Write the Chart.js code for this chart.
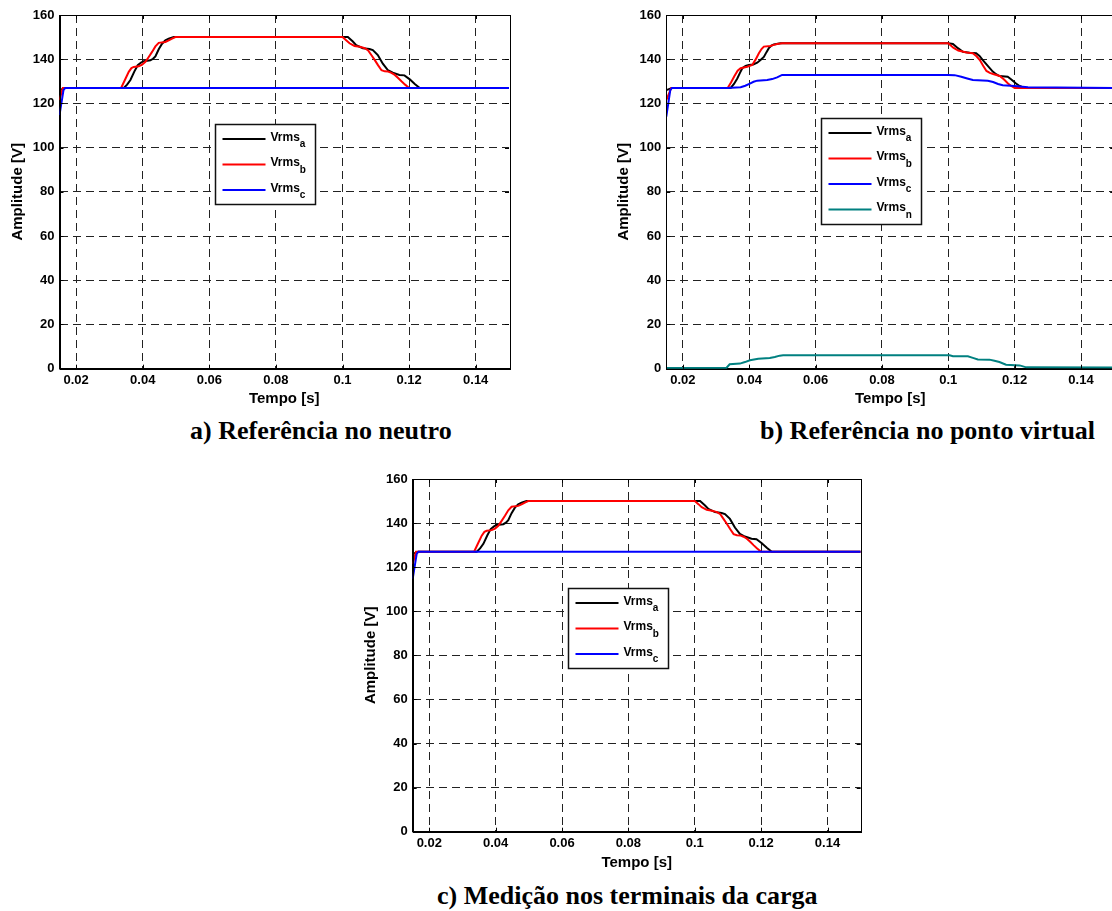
<!DOCTYPE html>
<html>
<head>
<meta charset="utf-8">
<script src="https://cdn.jsdelivr.net/npm/chart.js@4"></script>
<style>
  html, body { margin: 0; padding: 0; background: #fff; }
  body { width: 1112px; height: 911px; position: relative; overflow: hidden; }
  canvas { position: absolute; }
  .caption {
    position: absolute;
    font-family: 'Liberation Serif', 'Times New Roman', serif;
    font-weight: bold;
    font-size: 26px;
    line-height: 26px;
    white-space: nowrap;
    color: #000;
  }
</style>
</head>
<body>
<canvas id="chartA" width="520" height="410" style="left:0px;top:0px"></canvas>
<canvas id="chartB" width="520" height="410" style="left:606px;top:0px"></canvas>
<canvas id="chartC" width="520" height="410" style="left:353px;top:464px"></canvas>
<div class="caption" style="left:190px;top:418px">a) Referência no neutro</div>
<div class="caption" style="left:760px;top:418px">b) Referência no ponto virtual</div>
<div class="caption" style="left:437px;top:883px">c) Medição nos terminais da carga</div>
<script>
// axis ticks
const xTicks = [0.02, 0.04, 0.06, 0.08, 0.1, 0.12, 0.14];
const xTickLabels = ['0.02', '0.04', '0.06', '0.08', '0.1', '0.12', '0.14'];
const yTicks = [0, 20, 40, 60, 80, 100, 120, 140, 160];

// RMS voltages, neutral reference (time in s, amplitude in V)
const tNa = [0.015, 0.0167, 0.0343, 0.0353, 0.0363, 0.0375, 0.0385, 0.0395, 0.0403, 0.0423, 0.0431, 0.0438, 0.0448, 0.0458, 0.0468, 0.0478, 0.0493,
             0.1, 0.1016, 0.1031, 0.1041, 0.1061, 0.1081, 0.1091, 0.1106, 0.1121, 0.1136, 0.1151, 0.1171, 0.1186, 0.1202, 0.1217, 0.1232, 0.15];
const vNa = [126, 127, 127, 128.5, 130.6, 134.5, 137.3, 138.5, 139.1, 139.5, 140.2, 141.3, 144.5, 147, 148.5, 149.3, 150,
             150, 150, 148, 146.4, 145, 144.6, 144.1, 141.9, 138, 135.1, 133.9, 132.9, 132.7, 130.9, 128.8, 127, 127];
const tNb = [0.015, 0.016, 0.0335, 0.0346, 0.0358, 0.0366, 0.0373, 0.0388, 0.0398, 0.0408, 0.0418, 0.0428, 0.0438, 0.0448, 0.0468, 0.0478, 0.0488, 0.0498,
             0.1, 0.1011, 0.1021, 0.1036, 0.1052, 0.1067, 0.1077, 0.1087, 0.1097, 0.1107, 0.1117, 0.1127, 0.1137, 0.1147, 0.1157, 0.1167, 0.1177, 0.1188, 0.12, 0.15];
const vNb = [121.5, 127, 127, 130.5, 134.3, 136, 136.5, 136.8, 137.5, 138.8, 141, 143.3, 145.8, 147.4, 147.8, 148.5, 149.3, 150,
             150, 148.6, 147.2, 146, 145.6, 145, 144, 141.8, 139.6, 137.2, 135, 134.5, 134.4, 133.8, 132.9, 131.5, 130, 128.5, 127, 127];
const tNc = [0.015, 0.0162, 0.0167, 0.15];
const vNc = [114.7, 126, 127, 127];

// RMS voltages, virtual point reference
const tVa = [0.015, 0.0167, 0.0344, 0.0354, 0.0364, 0.0372, 0.0379, 0.0389, 0.0399, 0.0412, 0.0424, 0.0434, 0.0444, 0.0452, 0.0459, 0.0467, 0.0474, 0.0494,
             0.1, 0.1014, 0.1029, 0.1044, 0.1064, 0.1084, 0.1094, 0.1104, 0.1119, 0.1134, 0.1144, 0.1154, 0.1179, 0.119, 0.1204, 0.1215, 0.1229, 0.15];
const vVa = [126, 127, 127, 128.8, 131.3, 133.8, 135.9, 137, 137.4, 137.6, 138.4, 139.6, 141, 143.2, 145, 146.2, 146.7, 147.2,
             147.2, 146.9, 145, 143.4, 142.9, 142.7, 141.5, 139.6, 137, 134.4, 133.2, 132.4, 132.1, 130.8, 129, 127.9, 127, 127];
const tVb = [0.015, 0.0165, 0.0335, 0.0345, 0.0355, 0.0365, 0.0374, 0.0394, 0.0409, 0.0419, 0.0429, 0.0437, 0.0444, 0.0464, 0.0474, 0.0484, 0.0499,
             0.1, 0.1015, 0.103, 0.1055, 0.1074, 0.1085, 0.1095, 0.1105, 0.1115, 0.1125, 0.1135, 0.1155, 0.1168, 0.118, 0.119, 0.12, 0.15];
const vVb = [121.5, 127, 127, 129.5, 132.3, 134.8, 135.9, 136.6, 137.4, 139.8, 142.7, 144.6, 145.7, 146, 146.5, 146.9, 147.2,
             147.2, 145.2, 143.9, 143, 142.7, 141.3, 139.6, 137, 134.7, 133.8, 133.3, 132.4, 130.8, 129, 127.9, 127, 127];
const tVc = [0.015, 0.0162, 0.0167, 0.0335, 0.0374, 0.0388, 0.0402, 0.0413, 0.0424, 0.0454, 0.0469, 0.0484, 0.0499,
             0.1, 0.1019, 0.1039, 0.1057, 0.1074, 0.1119, 0.1135, 0.115, 0.1164, 0.12, 0.124, 0.15];
const vVc = [114, 126, 127, 127, 127.3, 128, 129, 129.8, 130.3, 130.6, 131, 131.8, 132.9,
             132.9, 132.8, 132.1, 131.3, 130.6, 130.3, 129.7, 128.8, 128.2, 127.9, 127.3, 127];
const tVn = [0.015, 0.0331, 0.0341, 0.0372, 0.0387, 0.0402, 0.0427, 0.0462, 0.0477, 0.0492, 0.0502,
             0.1004, 0.1014, 0.1059, 0.1074, 0.1089, 0.1124, 0.1139, 0.1154, 0.1174, 0.1215, 0.1235, 0.15];
const vVn = [0.3, 0.3, 2, 2.3, 3, 3.8, 4.5, 4.8, 5.3, 5.9, 6.1,
             6.1, 5.6, 5.6, 4.9, 4.2, 4.1, 3.6, 3, 1.8, 1.5, 0.6, 0.5];

const AXIS_FONT = "'Liberation Sans', Arial, Helvetica, sans-serif";

function points(ts, vs) {
    return ts.map((t, i) => ({ x: t, y: vs[i] }));
}

// frame, inside ticks and the boxed legend with subscripts
const frameLegend = {
    id: 'frameLegend',
    afterDraw(chart, args, opts) {
        const { ctx, chartArea: a, scales } = chart;
        ctx.save();
        ctx.setLineDash([]);
        ctx.strokeStyle = '#000';
        ctx.lineWidth = 1;
        ctx.beginPath();
        xTicks.forEach(v => {
            const px = Math.round(scales.x.getPixelForValue(v)) + 0.5;
            ctx.moveTo(px, a.bottom); ctx.lineTo(px, a.bottom - 4);
            ctx.moveTo(px, a.top); ctx.lineTo(px, a.top + 4);
        });
        yTicks.forEach(v => {
            const py = Math.round(scales.y.getPixelForValue(v)) + 0.5;
            ctx.moveTo(a.left, py); ctx.lineTo(a.left + 4, py);
            ctx.moveTo(a.right, py); ctx.lineTo(a.right - 4, py);
        });
        ctx.stroke();
        ctx.strokeRect(Math.round(a.left) + 0.5, Math.round(a.top) + 0.5,
                       Math.round(a.right - a.left), Math.round(a.bottom - a.top));

        // legend
        const rows = chart.data.datasets.map(d => ({ sub: d.sub, color: d.borderColor }));
        const bx = Math.round(a.left + 155) + 0.5;
        const by = Math.round(a.top + opts.top) + 0.5;
        const bw = 100;
        const bh = 28 + 26 * (rows.length - 1);
        ctx.fillStyle = '#fff';
        ctx.fillRect(bx, by, bw, bh);
        ctx.lineWidth = 1.5;
        ctx.strokeStyle = '#111';
        ctx.strokeRect(bx, by, bw, bh);
        rows.forEach((r, i) => {
            const y = by + 14.5 + 25.5 * i;
            ctx.strokeStyle = r.color;
            ctx.lineWidth = 2;
            ctx.beginPath();
            ctx.moveTo(bx + 7, y);
            ctx.lineTo(bx + 50, y);
            ctx.stroke();
            ctx.fillStyle = '#000';
            ctx.textBaseline = 'alphabetic';
            ctx.textAlign = 'left';
            ctx.font = 'bold 12px ' + AXIS_FONT;
            ctx.fillText('Vrms', bx + 55, y + 1.5);
            const w = ctx.measureText('Vrms').width;
            ctx.font = 'bold 10px ' + AXIS_FONT;
            ctx.fillText(r.sub, bx + 55 + w, y + 8);
        });
        ctx.restore();
    }
};

function makeChart(id, series, yWidth, padRight, xHeight, legendTop) {
    return new Chart(document.getElementById(id), {
        type: 'line',
        data: {
            datasets: series.map(s => ({
                data: points(s.t, s.v),
                sub: s.sub,
                borderColor: s.color,
                borderWidth: 2,
                order: s.order,
                pointRadius: 0,
                fill: false,
                tension: 0
            }))
        },
        options: {
            responsive: false,
            animation: false,
            layout: { padding: { left: 0, top: 15, right: padRight, bottom: 0 } },
            plugins: {
                legend: { display: false },
                tooltip: { enabled: false },
                frameLegend: { top: legendTop }
            },
            scales: {
                x: {
                    type: 'linear',
                    min: 0.015,
                    max: 0.15,
                    afterBuildTicks: s => { s.ticks = xTicks.map(v => ({ value: v })); },
                    afterFit: s => { s.height = xHeight; },
                    ticks: {
                        callback: (v, i) => xTickLabels[i],
                        color: '#000',
                        padding: 4,
                        maxRotation: 0,
                        font: { family: AXIS_FONT, size: 13, weight: 'bold' }
                    },
                    grid: { color: '#222', lineWidth: 1, drawTicks: false },
                    border: { display: true, color: '#000', dash: [8, 5] },
                    title: {
                        display: true,
                        text: 'Tempo [s]',
                        color: '#000',
                        padding: { top: 0, bottom: 2 },
                        font: { family: AXIS_FONT, size: 15, weight: 'bold', lineHeight: 1.2 }
                    }
                },
                y: {
                    min: 0,
                    max: 160,
                    afterBuildTicks: s => { s.ticks = yTicks.map(v => ({ value: v })); },
                    afterFit: s => { s.width = yWidth; },
                    ticks: {
                        color: '#000',
                        padding: 5,
                        font: { family: AXIS_FONT, size: 13, weight: 'bold' }
                    },
                    grid: { color: '#222', lineWidth: 1, drawTicks: false },
                    border: { display: true, color: '#000', dash: [8, 5] },
                    title: {
                        display: true,
                        text: 'Amplitude [V]',
                        color: '#000',
                        padding: { top: 9, bottom: 0 },
                        font: { family: AXIS_FONT, size: 15, weight: 'bold', lineHeight: 1.2 }
                    }
                }
            }
        },
        plugins: [frameLegend]
    });
}

const neutralSeries = [
    { t: tNa, v: vNa, sub: 'a', color: '#000000', order: 2 },
    { t: tNb, v: vNb, sub: 'b', color: '#ff0000', order: 1 },
    { t: tNc, v: vNc, sub: 'c', color: '#0000ff', order: 0 }
];
const virtualSeries = [
    { t: tVa, v: vVa, sub: 'a', color: '#000000', order: 3 },
    { t: tVb, v: vVb, sub: 'b', color: '#ff0000', order: 2 },
    { t: tVc, v: vVc, sub: 'c', color: '#0000ff', order: 1 },
    { t: tVn, v: vVn, sub: 'n', color: '#008080', order: 0 }
];

makeChart('chartA', neutralSeries, 59.5, 11, 41.3, 109);
makeChart('chartB', virtualSeries, 60.3, 11.8, 41.3, 103);
makeChart('chartC', neutralSeries, 59.7, 12.3, 42.3, 109);
</script>
</body>
</html>
